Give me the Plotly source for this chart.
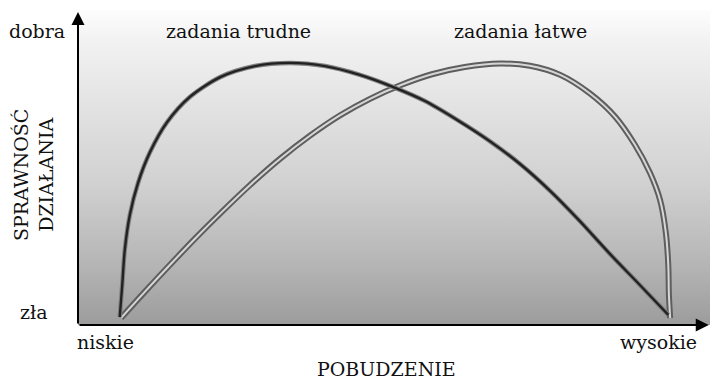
import plotly.graph_objects as go

# ---- dane, skala 0-100 ----
pobudzenie_trudne = [6.6, 7.0, 7.4, 8.2, 9.5, 11.4, 14.1, 17.7, 22.5, 28.0, 33.5, 39.1,
                     44.6, 49.8, 54.9, 60.0, 65.2, 69.9, 74.7, 79.4, 84.2, 88.9, 93.4]
sprawnosc_trudne = [2.5, 12.7, 23.8, 34.9, 45.1, 54.9, 64.4, 72.4, 78.7, 82.2, 83.2, 82.2,
                    79.4, 75.6, 71.1, 65.1, 58.3, 51.2, 42.6, 33.0, 22.5, 12.7, 3.2]

pobudzenie_latwe = [6.8, 10.6, 14.6, 18.5, 22.8, 27.2, 32.0, 36.7, 41.5, 46.2, 51.0, 56.0,
                    61.2, 66.8, 71.5, 76.3, 81.0, 85.0, 88.1, 90.5, 92.1, 93.0, 93.4,
                    93.5, 93.7]
sprawnosc_latwe = [2.2, 10.6, 19.2, 27.4, 36.0, 44.4, 52.8, 60.1, 66.6, 71.8, 76.1, 79.6,
                   81.9, 83.0, 82.3, 79.4, 73.5, 66.1, 57.3, 48.3, 39.7, 29.5, 19.0,
                   9.5, 2.2]

etykiety_y = ["dobra", "zła"]
etykiety_x = ["niskie", "wysokie"]
tytul_x = "POBUDZENIE"
tytul_y = "SPRAWNOŚĆ<br>DZIAŁANIA"
nazwy = ["zadania trudne", "zadania łatwe"]

W, H = 710, 381
FONT = dict(family="DejaVu Serif, serif", size=19, color="#111111")
SM = 0.8

fig = go.Figure()

# tło z gradientem (od ciemnoszarego na dole do białego u góry)
fig.add_trace(go.Scatter(
    x=[0, 101, 101, 0, 0], y=[0, 0, 100, 100, 0],
    mode="lines", line=dict(width=0), fill="toself",
    fillgradient=dict(type="vertical", colorscale=[
        [0.0, "#9c9c9c"], [0.2, "#b6b6b6"], [0.45, "#d1d1d1"],
        [0.7, "#e3e3e3"], [0.9, "#f2f2f2"], [1.0, "#fdfdfd"]]),
    hoverinfo="skip", showlegend=False,
))

# zadania łatwe - podwójna linia
fig.add_trace(go.Scatter(x=pobudzenie_latwe, y=sprawnosc_latwe, mode="lines",
                         line=dict(color="#5e5e5e", width=6, shape="spline", smoothing=SM),
                         showlegend=False))
fig.add_trace(go.Scatter(x=pobudzenie_latwe, y=sprawnosc_latwe, mode="lines",
                         line=dict(color="#d6d6d6", width=2, shape="spline", smoothing=SM),
                         showlegend=False))

# zadania trudne - pojedyncza ciemna linia
fig.add_trace(go.Scatter(x=pobudzenie_trudne, y=sprawnosc_trudne, mode="lines",
                         line=dict(color="#808080", width=4.5, shape="spline", smoothing=SM),
                         showlegend=False))
fig.add_trace(go.Scatter(x=pobudzenie_trudne, y=sprawnosc_trudne, mode="lines",
                         line=dict(color="#222222", width=2.4, shape="spline", smoothing=SM),
                         showlegend=False))

fig.update_layout(
    width=W, height=H,
    margin=dict(l=0, r=0, t=0, b=0),
    paper_bgcolor="white", plot_bgcolor="rgba(0,0,0,0)",
    font=FONT,
    xaxis=dict(domain=[78 / W, 1], range=[0, 100], visible=False, fixedrange=True),
    yaxis=dict(domain=[(H - 325) / H, (H - 10) / H], range=[0, 100],
               visible=False, fixedrange=True),
)

# osie ze strzałkami
fig.add_annotation(x=0, y=99.4, ax=0, ay=0, xref="x", yref="y", axref="x", ayref="y",
                   text="", showarrow=True, arrowhead=2, arrowsize=1.3,
                   arrowwidth=2, arrowcolor="black")
fig.add_annotation(x=99.8, y=0, ax=0, ay=0, xref="x", yref="y", axref="x", ayref="y",
                   text="", showarrow=True, arrowhead=2, arrowsize=1.3,
                   arrowwidth=2, arrowcolor="black")


def tekst(t, px, py, **kw):
    fig.add_annotation(x=px / W, y=1 - py / H, xref="paper", yref="paper",
                       text=t, showarrow=False, font=FONT,
                       xanchor="center", yanchor="middle", **kw)


tekst(etykiety_y[0], 37, 31)
tekst(etykiety_y[1], 34, 312)
tekst(etykiety_x[0], 105, 342)
tekst(etykiety_x[1], 658, 342)
tekst(tytul_x, 386, 369)
tekst(tytul_y, 34, 175, textangle=-90)
tekst(nazwy[0], 238, 31)
tekst(nazwy[1], 520, 31)

fig.write_html("out.html", config={"displayModeBar": False},
               post_script="document.body.style.margin='0px';")
